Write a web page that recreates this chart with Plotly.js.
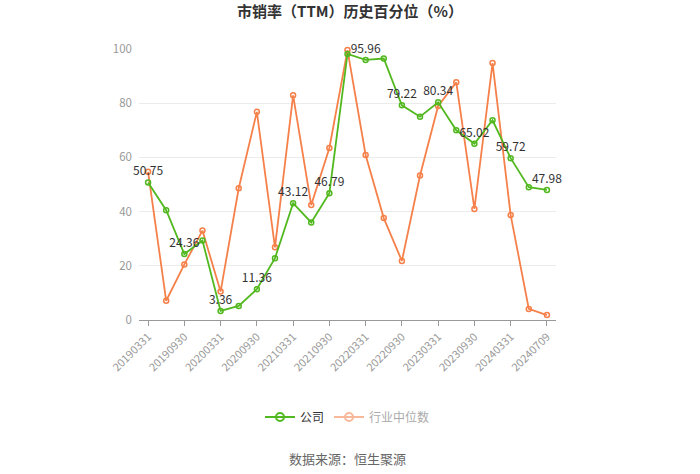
<!DOCTYPE html>
<html><head><meta charset="utf-8">
<script src="https://cdn.plot.ly/plotly-3.0.1.min.js"></script>
<style>body{margin:0;padding:0;background:#fff}#c{width:700px;height:474px}</style>
</head><body><div id="c"></div>
<script>
const dates = ["20190331","20190630","20190930","20191231","20200331","20200630","20200930","20201231","20210331","20210630","20210930","20211231","20220331","20220630","20220930","20221231","20230331","20230630","20230930","20231231","20240331","20240630","20240709"];
const company = [50.75,40.5,24.36,29.3,3.36,5.2,11.36,22.8,43.12,36.0,46.79,98.2,95.96,96.5,79.22,75.0,80.34,70.0,65.02,73.7,59.72,49.0,47.98];
const industry = [54.7,7.1,20.5,33.0,10.5,48.6,76.8,26.8,82.9,42.4,63.5,99.6,60.9,37.6,21.8,53.3,79.0,87.7,41.0,94.8,38.7,4.1,1.8];
const tickDates = ["20190331","20190930","20200331","20200930","20210331","20210930","20220331","20220930","20230331","20230930","20240331","20240709"];
const seriesNames = ["公司","行业中位数"];
const companyLabels = company.map((v,i)=> (i%2===0 ? v.toFixed(2) : ""));

const green = "#52b81f", orange = "#f5804a";
const font = "'Noto Sans CJK SC', 'Noto Sans', sans-serif";
const data = [
  {x: dates, y: industry, name: seriesNames[1], type: "scatter", mode: "lines+markers", showlegend: false,
   line: {color: orange, width: 1.8}, marker: {symbol: "circle-open", size: 5, color: orange, line:{width:1.5}},
   cliponaxis: false},
  {x: dates, y: company, name: seriesNames[0], type: "scatter", mode: "lines+markers+text", showlegend: false,
   line: {color: green, width: 1.8}, marker: {symbol: "circle-open", size: 5, color: green, line:{width:1.5}},
   text: companyLabels, textposition: "top center", textfont: {size: 12, color: "#333", family: font},
   cliponaxis: false},
  {x: [null], y: [null], name: seriesNames[0], type: "scatter", mode: "lines+markers",
   line: {color: green, width: 2}, marker: {symbol: "circle-open", size: 8, color: green, line:{width:2}}},
  {x: [null], y: [null], name: "<span style='color:#aaa'>" + seriesNames[1] + "</span>", type: "scatter", mode: "lines+markers",
   line: {color: "#f8b89a", width: 2}, marker: {symbol: "circle-open", size: 8, color: "#f8b89a", line:{width:2}}}
];
const plotH = 474 - 49 - 154;
const layout = {
  width: 700, height: 474,
  margin: {l: 139, r: 144, t: 49, b: 154},
  paper_bgcolor: "#fff", plot_bgcolor: "#fff",
  font: {family: font, color: "#666"},
  title: {text: "市销率（TTM）历史百分位（%）", x: 0.5, xanchor: "center", y: 0.975, yanchor: "middle",
          font: {size: 15, color: "#333", family: font, weight: "bold"}},
  xaxis: {type: "category", categoryorder: "array", categoryarray: dates, range: [-0.5, 22.5],
          tickmode: "array", tickvals: tickDates, ticktext: tickDates, tickangle: -45,
          tickfont: {size: 11, color: "#999"}, showgrid: false, zeroline: false,
          showline: true, linecolor: "#999", linewidth: 1, ticks: "outside", ticklen: 5, tickcolor: "#999"},
  yaxis: {range: [0, 100], tickvals: [0,20,40,60,80,100], tickfont: {size: 11.5, color: "#999"},
          showgrid: true, gridcolor: "#ebebeb", zeroline: false, showline: false, ticks: "", ticklabelstandoff: 6},
  showlegend: true,
  legend: {orientation: "h", x: 0.5, xanchor: "center", y: (474 - 154 - 417) / plotH, yanchor: "middle",
           font: {size: 12, color: "#333"}, itemwidth: 30},
  annotations: [{text: "数据来源：恒生聚源", xref: "paper", yref: "paper", x: 0.5, y: (474 - 154 - 458) / plotH,
                 xanchor: "center", yanchor: "middle", showarrow: false, font: {size: 13, color: "#666"}}]
};
Plotly.newPlot("c", data, layout, {displayModeBar: false, staticPlot: true});
</script></body></html>
